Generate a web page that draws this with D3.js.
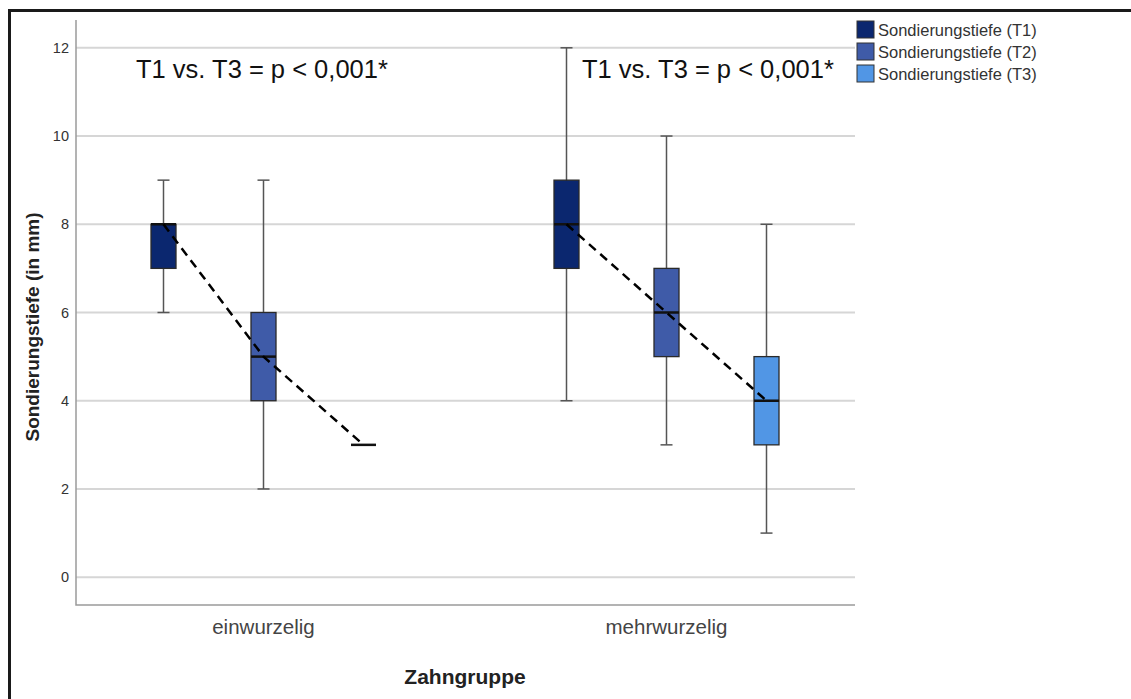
<!DOCTYPE html>
<html>
<head>
<meta charset="utf-8">
<script src="https://cdn.jsdelivr.net/npm/d3@7"></script>
<style>
  body { margin: 0; background: #fff; }
  text { font-family: Arial, "Liberation Sans", sans-serif; }
</style>
</head>
<body>
<svg id="chart" width="1131" height="699"></svg>
<script>
// categories and series
const groups = ["einwurzelig", "mehrwurzelig"]
const series = ["Sondierungstiefe (T1)", "Sondierungstiefe (T2)", "Sondierungstiefe (T3)"]
const colors = ["#0b276f", "#3f5ba8", "#5196e5"]

// box stats per group: [min, q1, median, q3, max]
const einwurzelig = [[6, 7, 8, 8, 9], [2, 4, 5, 6, 9], [3, 3, 3, 3, 3]]
const mehrwurzelig = [[4, 7, 8, 9, 12], [3, 5, 6, 7, 10], [1, 3, 4, 5, 8]]
const yTicks = [0, 2, 4, 6, 8, 10, 12]
const pLabel = "T1 vs. T3 = p < 0,001*"

const stats = { einwurzelig, mehrwurzelig }

const svg = d3.select("#chart")

// outer frame (cropped screenshot: only left + top visible)
svg.append("path")
  .attr("d", "M9.5,699 V10.5 H1131")
  .attr("fill", "none").attr("stroke", "#1a1a1a").attr("stroke-width", 3)

const pLeft = 76, pRight = 855, pTop = 20, pBottom = 605

const y = d3.scaleLinear().domain([-0.63, 12.63]).range([pBottom, pTop])
const x0 = d3.scaleBand().domain(groups).range([62, 868]).padding(0)
const x1 = d3.scalePoint().domain(series).range([-100, 100])

// gridlines
svg.append("g").selectAll("line").data(yTicks).join("line")
  .attr("x1", pLeft).attr("x2", pRight)
  .attr("y1", d => y(d)).attr("y2", d => y(d))
  .attr("stroke", "#d6d6d6").attr("stroke-width", 2)

// axis lines
svg.append("path")
  .attr("d", `M${pLeft},${pTop} V${pBottom} H${pRight}`)
  .attr("fill", "none").attr("stroke", "#9a9a9a").attr("stroke-width", 1.5)

// y ticks
const yAxis = d3.axisLeft(y).tickValues(yTicks).tickSize(0).tickPadding(7)
const yg = svg.append("g").attr("transform", `translate(${pLeft},0)`).call(yAxis)
yg.select(".domain").remove()
yg.selectAll("text").attr("font-size", 14.5).attr("fill", "#333").attr("font-family", "Arial, 'Liberation Sans', sans-serif")

// x ticks
const xg = svg.append("g").attr("transform", `translate(0,${pBottom})`)
  .call(d3.axisBottom(x0).tickSize(0).tickPadding(14))
xg.select(".domain").remove()
xg.selectAll("text").attr("font-size", 20.5).attr("fill", "#444").attr("font-family", "Arial, 'Liberation Sans', sans-serif")

// axis titles
svg.append("text")
  .attr("transform", `translate(39,327) rotate(-90)`)
  .attr("text-anchor", "middle")
  .attr("font-size", 19).attr("font-weight", "bold").attr("fill", "#222")
  .text("Sondierungstiefe (in mm)")

svg.append("text")
  .attr("x", 465).attr("y", 684)
  .attr("text-anchor", "middle")
  .attr("font-size", 21).attr("font-weight", "bold").attr("fill", "#222")
  .text("Zahngruppe")

const boxW = 25, capW = 12
const labelX = [136, 582]

groups.forEach((g, gi) => {
  const cx = s => x0(g) + x0.bandwidth() / 2 + x1(s)
  const gg = svg.append("g")
  const data = series.map((s, i) => ({ s, i, v: stats[g][i] }))

  data.forEach(d => {
    const [mn, q1, md, q3, mx] = d.v
    const c = cx(d.s)
    const b = gg.append("g")
    // whisker
    b.append("line").attr("x1", c).attr("x2", c).attr("y1", y(mx)).attr("y2", y(mn))
      .attr("stroke", "#555").attr("stroke-width", 1.5)
    b.selectAll(".cap").data([mn, mx]).join("line")
      .attr("x1", c - capW / 2).attr("x2", c + capW / 2)
      .attr("y1", v => y(v)).attr("y2", v => y(v))
      .attr("stroke", "#555").attr("stroke-width", 1.5)
    if (q3 > q1) {
      b.append("rect")
        .attr("x", c - boxW / 2).attr("width", boxW)
        .attr("y", y(q3)).attr("height", y(q1) - y(q3))
        .attr("fill", colors[d.i]).attr("stroke", "#2a2a2a").attr("stroke-width", 1.3)
    }
    b.append("line")
      .attr("x1", c - boxW / 2).attr("x2", c + boxW / 2)
      .attr("y1", y(md)).attr("y2", y(md))
      .attr("stroke", "#111").attr("stroke-width", 2.5)
  })

  // dashed line through medians
  const line = d3.line().x(d => cx(d.s)).y(d => y(d.v[2]))
  gg.append("path").datum(data).attr("d", line)
    .attr("fill", "none").attr("stroke", "#000")
    .attr("stroke-width", 2.5).attr("stroke-dasharray", "9,6")

  // p-value label
  svg.append("text")
    .attr("x", labelX[gi]).attr("y", 78)
    .attr("font-size", 25.5).attr("fill", "#111")
    .text(pLabel)
})

// legend
const lg = svg.append("g").attr("transform", "translate(857,21)")
const item = lg.selectAll("g").data(series).join("g")
  .attr("transform", (d, i) => `translate(0,${i * 22})`)
item.append("rect").attr("width", 17).attr("height", 17)
  .attr("fill", (d, i) => colors[i]).attr("stroke", "#333").attr("stroke-width", 1)
item.append("text").attr("x", 21).attr("y", 14.5)
  .attr("font-size", 16.5).attr("fill", "#333")
  .text(d => d)
</script>
</body>
</html>
